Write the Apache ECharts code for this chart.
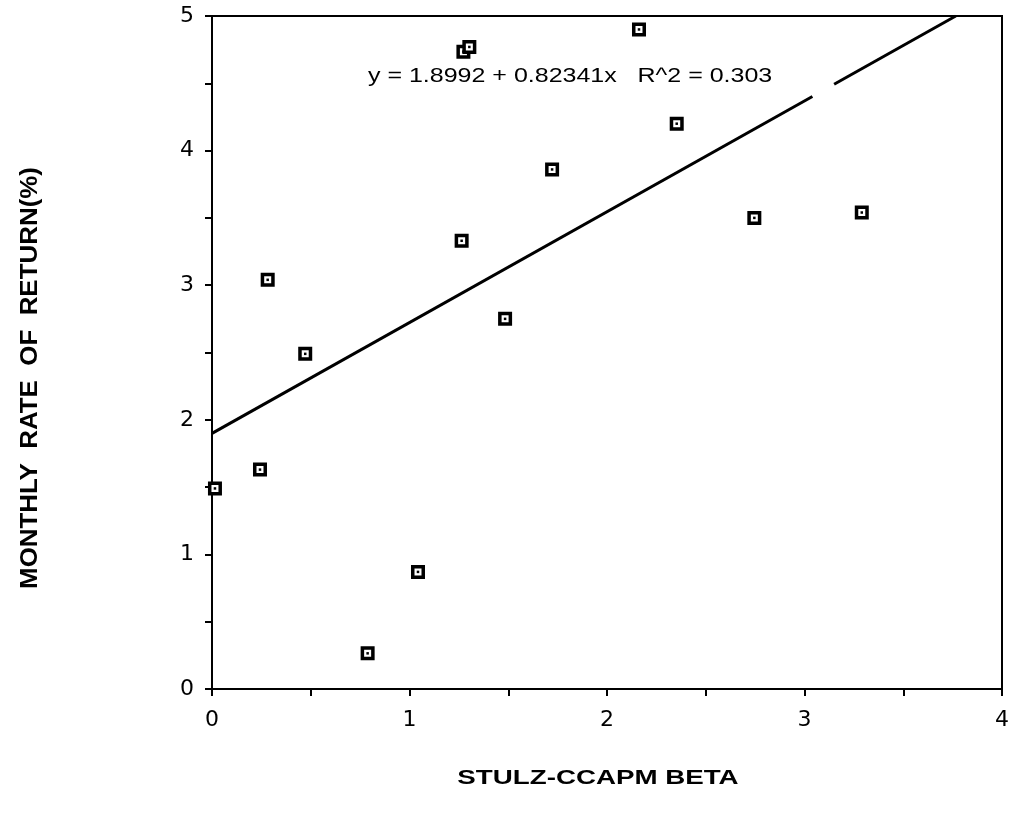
<!DOCTYPE html>
<html>
<head>
<meta charset="utf-8">
<script src="https://cdn.jsdelivr.net/npm/echarts@6/dist/echarts.min.js"></script>
<style>
html,body{margin:0;padding:0;background:#fff;}
#chart{width:1014px;height:825px;}
</style>
</head>
<body>
<div id="chart"></div>
<script>
// Data
var betas   = [0.015, 0.243, 0.282, 0.472, 0.788, 1.043, 1.264, 1.273, 1.303, 1.484, 1.722, 2.162, 2.353, 2.746, 3.290];
var returns = [1.49,  1.63,  3.04,  2.49,  0.265, 0.87,  3.33,  4.735, 4.77,  2.75,  3.86,  4.90,  4.20,  3.50,  3.54];
var intercept = 1.8992;
var slope = 0.82341;
var lineSegments = [[0, 3.04], [3.15, 3.766]];
var xTicks = [0, 1, 2, 3, 4];
var yTicks = [0, 1, 2, 3, 4, 5];
var equationText = 'y = 1.8992 + 0.82341x   R^2 = 0.303';
var xTitle = 'STULZ-CCAPM BETA';
var yTitle = 'MONTHLY  RATE  OF  RETURN(%)';

var points = betas.map(function (b, i) { return [b, returns[i]]; });
function fit(x) { return intercept + slope * x; }

var FONT = 'Liberation Sans, Arial, Helvetica, sans-serif';
var TICKFONT = 'DejaVu Sans, Liberation Sans, sans-serif';
var chart = echarts.init(document.getElementById('chart'));

var lineSeries = lineSegments.map(function (seg) {
  return {
    type: 'line',
    data: [[seg[0], fit(seg[0])], [seg[1], fit(seg[1])]],
    symbol: 'none',
    lineStyle: { color: '#000', width: 3 },
    z: 2,
    silent: true
  };
});

var option = {
  animation: false,
  backgroundColor: '#fff',
  grid: {
    left: 212, right: 12, top: 16, bottom: 136,
    show: true, borderColor: '#000', borderWidth: 2
  },
  xAxis: {
    type: 'value', min: 0, max: 4, interval: 0.5,
    axisLine: { show: true, lineStyle: { color: '#000', width: 2 } },
    axisTick: { show: true, length: 7, inside: false, lineStyle: { color: '#000', width: 2 } },
    splitLine: { show: false },
    axisLabel: {
      color: '#000', fontSize: 22, fontFamily: TICKFONT, margin: 20,
      formatter: function (v) { return xTicks.indexOf(v) >= 0 ? String(v) : ''; }
    }
  },
  yAxis: {
    type: 'value', min: 0, max: 5, interval: 0.5,
    axisLine: { show: true, lineStyle: { color: '#000', width: 2 } },
    axisTick: { show: true, length: 7, inside: false, lineStyle: { color: '#000', width: 2 } },
    splitLine: { show: false },
    axisLabel: {
      color: '#000', fontSize: 22, fontFamily: TICKFONT, margin: 18,
      formatter: function (v) { return yTicks.indexOf(v) >= 0 ? String(v) : ''; }
    }
  },
  graphic: [
    {
      type: 'text', x: 368, y: 76, scaleX: 1.19,
      style: { text: equationText, fill: '#000', font: '21px ' + FONT, verticalAlign: 'middle' }
    },
    {
      type: 'text', x: 598, y: 778, scaleX: 1.32,
      style: { text: xTitle, fill: '#000', font: 'bold 21px ' + FONT, align: 'center', verticalAlign: 'middle' }
    },
    {
      type: 'text', x: 30, y: 378, rotation: Math.PI / 2, scaleX: 1.08,
      style: { text: yTitle, fill: '#000', font: 'bold 24px ' + FONT, align: 'center', verticalAlign: 'middle' }
    }
  ],
  series: lineSeries.concat([
    {
      type: 'scatter',
      data: points,
      symbol: 'rect',
      symbolSize: 10.5,
      itemStyle: { color: '#fff', borderColor: '#000', borderWidth: 3.5, opacity: 1 },
      z: 3,
      silent: true
    },
    {
      type: 'scatter',
      data: points,
      symbol: 'rect',
      symbolSize: 2.5,
      itemStyle: { color: '#000', opacity: 1 },
      z: 4,
      silent: true
    }
  ])
};
chart.setOption(option);
</script>
</body>
</html>
